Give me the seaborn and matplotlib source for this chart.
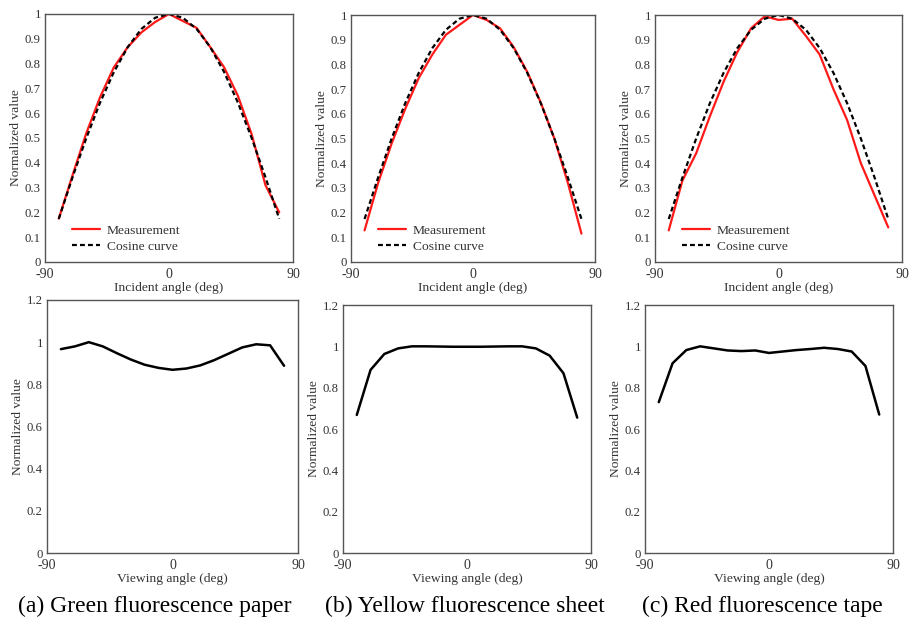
import matplotlib
matplotlib.use("Agg")
import matplotlib.pyplot as plt
import seaborn as sns
import pandas as pd
from matplotlib.ticker import FuncFormatter

# ---------------- data ----------------
angles = [-80, -70, -60, -50, -40, -30, -20, -10, 0, 10, 20, 30, 40, 50, 60, 70, 80]

cosine_curve = [0.174, 0.342, 0.500, 0.643, 0.766, 0.866, 0.940, 0.985, 1.000,
                0.985, 0.940, 0.866, 0.766, 0.643, 0.500, 0.342, 0.174]

green_incident = [0.175, 0.35, 0.52, 0.665, 0.785, 0.866, 0.926, 0.968, 1.0,
                  0.972, 0.944, 0.866, 0.785, 0.67, 0.515, 0.31, 0.20]
yellow_incident = [0.128, 0.32, 0.48, 0.62, 0.745, 0.84, 0.92, 0.96, 1.0,
                   0.98, 0.946, 0.87, 0.77, 0.645, 0.50, 0.32, 0.115]
red_incident = [0.128, 0.33, 0.44, 0.59, 0.73, 0.85, 0.946, 0.995, 0.98,
                0.985, 0.915, 0.84, 0.70, 0.575, 0.40, 0.27, 0.14]

green_viewing = [0.967, 0.98, 1.0, 0.98, 0.948, 0.918, 0.893, 0.878, 0.869,
                 0.875, 0.89, 0.915, 0.945, 0.975, 0.99, 0.985, 0.888]
yellow_viewing = [0.668, 0.886, 0.963, 0.99, 1.0, 1.0, 0.999, 0.998, 0.998,
                  0.998, 0.999, 1.0, 1.0, 0.99, 0.955, 0.87, 0.655]
red_viewing = [0.73, 0.918, 0.982, 1.0, 0.99, 0.98, 0.977, 0.98, 0.968,
               0.975, 0.982, 0.987, 0.993, 0.987, 0.975, 0.905, 0.67]

captions = ["(a) Green fluorescence paper", "(b) Yellow fluorescence sheet",
            "(c) Red fluorescence tape"]
x_ticks = [-90, 0, 90]
top_y_ticks = [0, 0.1, 0.2, 0.3, 0.4, 0.5, 0.6, 0.7, 0.8, 0.9, 1.0]
bottom_y_ticks = [0, 0.2, 0.4, 0.6, 0.8, 1.0, 1.2]

# ---------------- style ----------------
sns.set_style("white")
plt.rcParams["font.family"] = ["Liberation Serif", "DejaVu Serif"]
plt.rcParams["axes.unicode_minus"] = False
plt.rcParams["text.color"] = "#333333"
plt.rcParams["axes.labelcolor"] = "#333333"
plt.rcParams["xtick.color"] = "#333333"
plt.rcParams["ytick.color"] = "#333333"

W, H = 912, 620
fig = plt.figure(figsize=(W / 100, H / 100), dpi=100)


def add_ax(left, right, top, bottom):
    return fig.add_axes([left / W, 1 - bottom / H, (right - left) / W, (bottom - top) / H])


top_boxes = [(45, 293, 14, 262), (351, 595, 15, 262), (655, 902, 15, 262)]
bot_boxes = [(47, 298, 300, 553), (343, 591, 305, 553), (645, 893, 305, 553)]
caption_x = [155, 465, 762]

fmt = FuncFormatter(lambda v, p: ("%g" % round(v, 2)))

incident = [green_incident, yellow_incident, red_incident]
viewing = [green_viewing, yellow_viewing, red_viewing]


def style_ax(ax, yticks, ylim, xlabel):
    ax.set_xlim(-90, 90)
    ax.set_ylim(*ylim)
    ax.set_xticks(x_ticks)
    ax.set_yticks(yticks)
    ax.yaxis.set_major_formatter(fmt)
    ax.tick_params(axis="x", direction="in", length=2, width=0.6,
                   labelsize=10, pad=4.5)
    ax.tick_params(axis="y", direction="in", length=2, width=0.6,
                   labelsize=9.2, pad=3)
    for s in ax.spines.values():
        s.set_color("#555555")
        s.set_linewidth(1.0)
    ax.set_xlabel(xlabel, fontsize=9.7, labelpad=0.5)
    ax.set_ylabel("Normalized value", fontsize=9.7, labelpad=2)


for i in range(3):
    ax = add_ax(*top_boxes[i])
    df = pd.DataFrame({"angle": angles, "meas": incident[i], "cos": cosine_curve})
    sns.lineplot(data=df, x="angle", y="meas", ax=ax, color="#ff1a1a", lw=1.6,
                 label="Measurement")
    sns.lineplot(data=df, x="angle", y="cos", ax=ax, color="black", lw=1.6,
                 linestyle=(0, (2.2, 1.4)), label="Cosine curve")
    style_ax(ax, top_y_ticks, (0, 1), "Incident angle (deg)")
    ax.legend(loc="lower left", bbox_to_anchor=(0.07, 0.0), frameon=False,
              fontsize=9.7, handlelength=2.1, handletextpad=0.5, labelspacing=0.25,
              borderaxespad=0.3)

    axb = add_ax(*bot_boxes[i])
    dfb = pd.DataFrame({"angle": angles, "val": viewing[i]})
    sns.lineplot(data=dfb, x="angle", y="val", ax=axb, color="black", lw=1.8)
    style_ax(axb, bottom_y_ticks, (0, 1.2), "Viewing angle (deg)")

    fig.text(caption_x[i] / W, 1 - 606 / H, captions[i], fontsize=17,
             ha="center", va="center", color="black")

fig.savefig("out.png", dpi=100)
